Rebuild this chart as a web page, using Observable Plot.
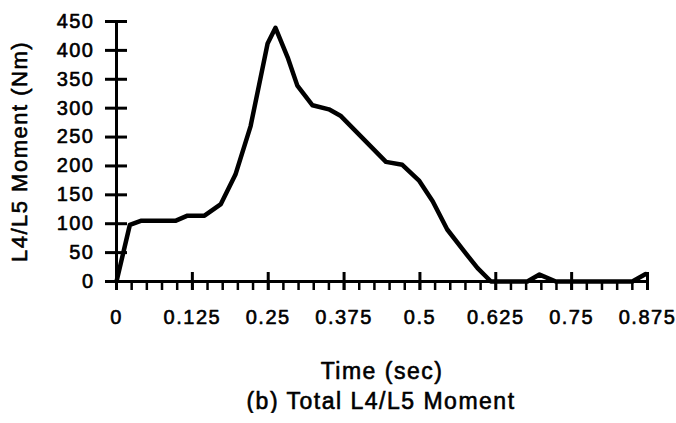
<!DOCTYPE html>
<html>
<head>
<meta charset="utf-8">
<script src="https://cdn.jsdelivr.net/npm/d3@7"></script>
<script src="https://cdn.jsdelivr.net/npm/@observablehq/plot@0.6"></script>
<style>
  html, body { margin: 0; padding: 0; background: #fff; }
  figure { margin: 0; }
  svg { display: block; }
  figcaption {
    font-family: "Liberation Sans", Arial, Helvetica, sans-serif;
    font-size: 23px;
    letter-spacing: 1.5px;
    line-height: 1;
    color: #000;
    -webkit-text-stroke: 0.6px #000;
    text-align: center;
    padding-left: 86px;
    width: 590px;
  }
</style>
</head>
<body>
<div id="chart"></div>
<script>
// Total L4/L5 moment over the lift (time in seconds, moment in Nm)
const time   = [0, 0.022, 0.040, 0.097, 0.117, 0.145, 0.172, 0.196, 0.221, 0.249, 0.262, 0.282, 0.298, 0.323, 0.350, 0.369, 0.444, 0.471, 0.499, 0.521, 0.545, 0.573, 0.595, 0.617, 0.677, 0.697, 0.724, 0.850, 0.872];
const moment = [0, 98, 105, 105, 114, 114, 134, 185, 269, 412, 439, 388, 339, 305, 298, 287, 207, 202, 174, 139, 90, 52, 23, 0, 0, 12, 0, 0, 13];

// Axis ticks
const xTicks = [0, 0.125, 0.25, 0.375, 0.5, 0.625, 0.75, 0.875];
const xMinorTicks = d3.range(0, 36).map(i => i * 0.025);
const yTicks = [0, 50, 100, 150, 200, 250, 300, 350, 400, 450];

const xLabel = "Time (sec)";
const yLabel = "L4/L5 Moment (Nm)";
const caption = "(b) Total L4/L5 Moment";

const series = time.map((t, i) => ({t, m: moment[i]}));

// slightly heavier text strokes
const ink = {fill: "#000", stroke: "#000", strokeWidth: 0.6};

const height = 390;
const chart = Plot.plot({
  width: 676,
  height,
  marginLeft: 116,
  marginRight: 29,
  marginTop: 21,
  marginBottom: height - 281,
  x: {domain: [0, 0.875], axis: null},
  y: {domain: [0, 450], axis: null},
  style: {
    fontFamily: '"Liberation Sans", Arial, Helvetica, sans-serif',
    fontSize: "20px",
    color: "#000",
    background: "#fff",
    letterSpacing: "1.5px",
    overflow: "visible"
  },
  caption,
  marks: [
    // minor ticks below the time axis
    Plot.ruleX(xMinorTicks, {x: d => d, y1: () => 0, y2: () => 0, insetTop: 9, strokeWidth: 2.5}),
    // major ticks crossing the time axis
    Plot.ruleX(xTicks, {x: d => d, y1: () => 0, y2: () => 0, insetTop: 9, insetBottom: 9, strokeWidth: 3}),
    // major ticks crossing the moment axis
    Plot.ruleY(yTicks, {y: d => d, x1: () => 0, x2: () => 0, insetLeft: 11, insetRight: 11, strokeWidth: 3}),
    // axis lines
    Plot.ruleX([0], {y1: () => 0, y2: () => 450, insetTop: 9, strokeWidth: 3}),
    Plot.ruleY([0], {x1: () => 0, x2: () => 0.875, insetLeft: -11, strokeWidth: 3}),
    // tick labels
    Plot.text(xTicks, {x: d => d, frameAnchor: "bottom", dy: 42, text: d => String(d), ...ink}),
    Plot.text(yTicks, {y: d => d, frameAnchor: "left", dx: -22, textAnchor: "end", text: d => String(d), ...ink}),
    // axis titles
    Plot.text([xLabel], {frameAnchor: "bottom", dy: 97, lineAnchor: "bottom", fontSize: 23, ...ink}),
    Plot.text([yLabel], {frameAnchor: "left", dx: -90, rotate: -90, textAnchor: "middle", lineAnchor: "bottom", fontSize: 22, ...ink}),
    // moment curve
    Plot.line(series, {x: "t", y: "m", stroke: "#000", strokeWidth: 4.5, strokeLinejoin: "round", strokeLinecap: "round"})
  ]
});
document.getElementById("chart").append(chart);
</script>
</body>
</html>
